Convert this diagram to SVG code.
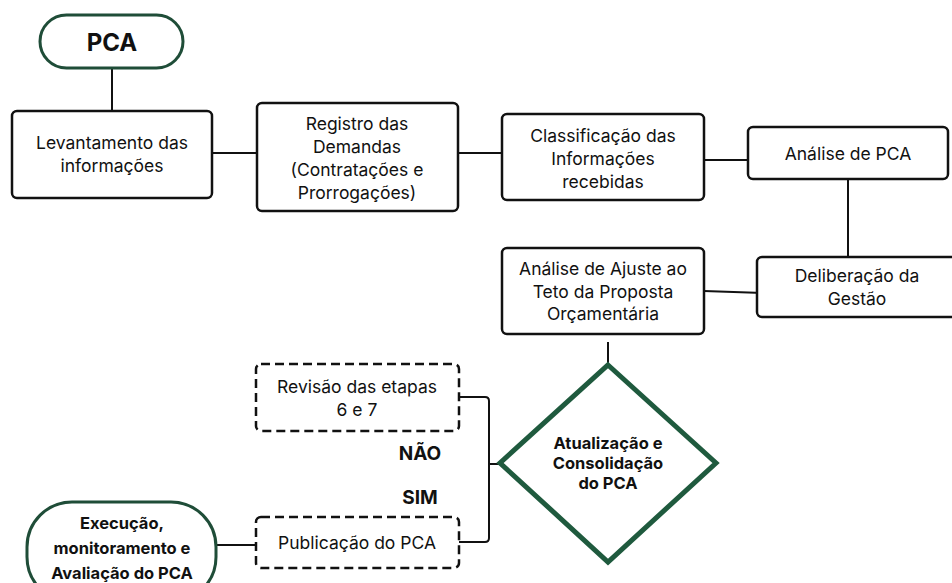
<svg xmlns="http://www.w3.org/2000/svg" width="952" height="583" viewBox="0 0 952 583">
<style>
.box{fill:#fff;stroke:#111;stroke-width:2.5}
.dash{fill:#fff;stroke:#111;stroke-width:2.5;stroke-dasharray:9 5}
.green{fill:#fff;stroke:#1f4d38;stroke-width:3}
.dia{fill:#fff;stroke:#1f5a3e;stroke-width:5}
.ln{fill:none;stroke:#111;stroke-width:2}
text{font-family:Inter,"Liberation Sans",sans-serif;font-size:17.5px;fill:#111;text-anchor:middle}
.b{font-weight:700}
.s{font-size:16.5px}
</style>
<rect width="952" height="583" fill="#fff"/>
<g id="connectors">
<line class="ln" x1="112" y1="68" x2="112" y2="111"/>
<line class="ln" x1="212" y1="153" x2="257" y2="153"/>
<line class="ln" x1="458" y1="153" x2="502" y2="153"/>
<line class="ln" x1="704" y1="160" x2="748" y2="160"/>
<line class="ln" x1="848" y1="179" x2="848" y2="257"/>
<line class="ln" x1="704" y1="291" x2="763" y2="293"/>
<line class="ln" x1="608" y1="342" x2="608" y2="365"/>
<path class="ln" d="M459 397 H485 Q489 397 489 401 V538 Q489 542 485 542 H459"/>
<line class="ln" x1="489" y1="464" x2="500" y2="464"/>
<line class="ln" x1="216" y1="545" x2="256" y2="545"/>
</g>
<g id="pca">
<rect class="green" x="40" y="15" width="143" height="53" rx="26.5"/>
<text class="b" x="112" y="51" style="font-size:24px">PCA</text>
</g>
<g id="levantamento">
<rect class="box" x="12" y="111" width="200" height="87" rx="5"/>
<text x="112" y="149">Levantamento das</text>
<text x="112" y="172">informações</text>
</g>
<g id="registro">
<rect class="box" x="257" y="103" width="201" height="108" rx="5"/>
<text x="357" y="130">Registro das</text>
<text x="357" y="153">Demandas</text>
<text x="357" y="176">(Contratações e</text>
<text x="357" y="199">Prorrogações)</text>
</g>
<g id="classificacao">
<rect class="box" x="502" y="114" width="202" height="86" rx="5"/>
<text x="603" y="142">Classificação das</text>
<text x="603" y="165">Informações</text>
<text x="603" y="188">recebidas</text>
</g>
<g id="analise-pca">
<rect class="box" x="748" y="127" width="200" height="52" rx="5"/>
<text x="848" y="160">Análise de PCA</text>
</g>
<g id="deliberacao">
<rect class="box" x="757" y="257" width="200" height="60" rx="5"/>
<text x="857" y="282">Deliberação da</text>
<text x="857" y="305">Gestão</text>
</g>
<g id="ajuste">
<rect class="box" x="502" y="248" width="202" height="86" rx="5"/>
<text x="603" y="275">Análise de Ajuste ao</text>
<text x="603" y="298">Teto da Proposta</text>
<text x="603" y="320">Orçamentária</text>
</g>
<g id="atualizacao">
<polygon class="dia" points="608,365 716,463 608,562 500,463"/>
<text class="b s" x="608" y="449">Atualização e</text>
<text class="b s" x="608" y="469">Consolidação</text>
<text class="b s" x="608" y="489">do PCA</text>
</g>
<g id="revisao">
<rect class="dash" x="256" y="364" width="203" height="67" rx="5"/>
<text x="357" y="393">Revisão das etapas</text>
<text x="357" y="416">6 e 7</text>
</g>
<g id="labels">
<text class="b" x="420" y="460" style="font-size:19px">NÃO</text>
<text class="b" x="420" y="504" style="font-size:19px">SIM</text>
</g>
<g id="publicacao">
<rect class="dash" x="256" y="517" width="203" height="51" rx="5"/>
<text x="357" y="549">Publicação do PCA</text>
</g>
<g id="execucao">
<rect class="green" x="27" y="502" width="189" height="100" rx="45"/>
<text class="b s" x="122" y="529">Execução,</text>
<text class="b s" x="122" y="554">monitoramento e</text>
<text class="b s" x="122" y="579">Avaliação do PCA</text>
</g>
</svg>
